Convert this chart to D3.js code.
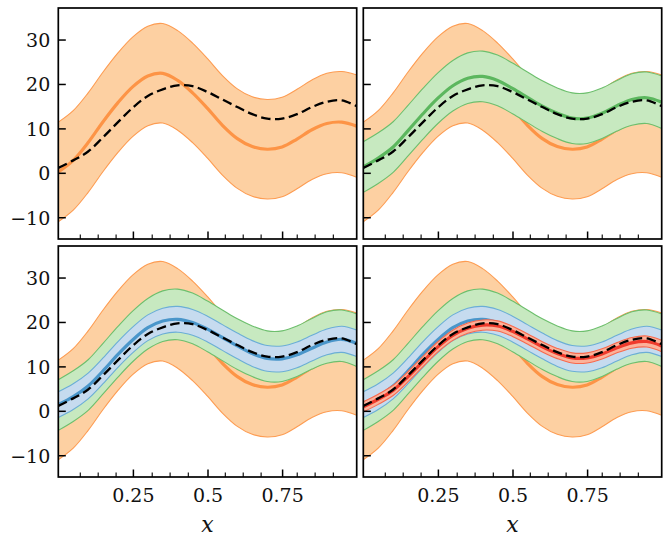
<!DOCTYPE html>
<html>
<head>
<meta charset="utf-8">
<script src="https://cdn.jsdelivr.net/npm/d3@7"></script>
<style>
  html, body { margin: 0; padding: 0; background: #fff; }
  svg { display: block; }
</style>
</head>
<body>
<svg id="chart" width="671" height="545"></svg>
<script>
// ---------------- data ----------------
const xs = [0, 0.05, 0.10, 0.15, 0.20, 0.25, 0.30, 0.35, 0.40, 0.45, 0.50,
            0.55, 0.60, 0.65, 0.70, 0.75, 0.80, 0.85, 0.90, 0.95, 1.00];

const trueF = [1.1, 2.8, 4.8, 8.0, 11.4, 14.7, 17.3, 18.8, 19.7, 19.5, 18.2,
               16.5, 14.8, 13.2, 12.2, 12.2, 13.2, 14.8, 16.0, 16.3, 15.0];

const orangeMean = [0.2, 2.8, 6.8, 11.5, 15.8, 19.4, 21.8, 22.4, 20.8, 18.0, 14.5,
                    10.7, 7.7, 5.9, 5.3, 5.8, 7.6, 9.7, 11.1, 11.4, 10.5];
const orangeHalf = [11.2, 11.2, 11.2, 11.2, 11.2, 11.2, 11.2, 11.2, 11.2, 11.2, 11.2,
                    11.2, 11.2, 11.2, 11.2, 11.2, 11.2, 11.2, 11.3, 11.4, 11.5];

const greenMean = [1.3, 3.3, 5.8, 9.5, 13.3, 16.8, 19.6, 21.3, 21.7, 20.8, 19.0,
                   17.0, 15.0, 13.4, 12.3, 12.3, 13.4, 15.1, 16.5, 16.9, 15.9];
const greenHalf = [5.7, 5.7, 5.7, 5.7, 5.7, 5.7, 5.7, 5.7, 5.7, 5.7, 5.7,
                   5.7, 5.7, 5.7, 5.7, 5.7, 5.7, 5.7, 5.8, 5.8, 5.9];

const blueMean = [1.4, 3.2, 5.6, 9.0, 12.7, 16.0, 18.7, 20.2, 20.6, 19.9, 18.4,
                  16.5, 14.6, 12.9, 11.8, 11.7, 12.6, 14.1, 15.5, 16.1, 15.2];
const blueHalf = [2.9, 2.9, 2.9, 2.9, 2.9, 2.9, 2.9, 2.9, 2.9, 2.9, 2.9,
                  2.9, 2.9, 2.9, 2.9, 2.9, 2.9, 2.9, 2.9, 2.95, 3.0];

const redMean = [0.9, 2.6, 4.6, 7.7, 11.1, 14.4, 17.0, 18.6, 19.3, 19.1, 17.9,
                 16.2, 14.4, 12.9, 11.9, 11.9, 12.8, 14.2, 15.3, 15.6, 14.6];
const redHalf = [1.15, 1.15, 1.15, 1.15, 1.15, 1.15, 1.15, 1.15, 1.15, 1.15, 1.15,
                 1.15, 1.15, 1.15, 1.15, 1.15, 1.15, 1.15, 1.2, 1.25, 1.3];

const xTickValues = [0.25, 0.5, 0.75];
const xTickLabels = ["0.25", "0.5", "0.75"];
const xMinorTicks = [0.072, 0.132, 0.192, 0.313, 0.373, 0.434, 0.558, 0.618, 0.678, 0.799, 0.859, 0.920];
const yTickValues = [-10, 0, 10, 20, 30];
const xLabel = "x";

// ---------------- styles ----------------
const seriesStyle = {
  orange: { mean: orangeMean, half: orangeHalf, fill: "#fdd0a2", edge: "#fd9c52", line: "#fd9446" },
  green:  { mean: greenMean,  half: greenHalf,  fill: "#c7e9c0", edge: "#6dbf6d", line: "#5cb75e" },
  blue:   { mean: blueMean,   half: blueHalf,   fill: "#c6dbef", edge: "#6baed6", line: "#4a96ca" },
  red:    { mean: redMean,    half: redHalf,    fill: "#fcb29a", edge: "#f8694d", line: "#ef3b2c" }
};
const panelSeries = [
  ["orange"],
  ["orange", "green"],
  ["orange", "green", "blue"],
  ["orange", "green", "blue", "red"]
];

const W = 298.4, H = 231;
const lefts = [58.3, 363.3], tops = [8, 246];
const FONT = "DejaVu Serif";
const FSIZE = 19;

const svg = d3.select("#chart");

const x = d3.scaleLinear().domain([0, 1]).range([0, W]);
const y = d3.scaleLinear().domain([-14.9, 37.1]).range([H, 0]);

const curve = d3.curveCatmullRom.alpha(0.5);
const pts = (arr) => xs.map((xv, i) => [xv, arr[i]]);

panelSeries.forEach((list, p) => {
  const col = p % 2, row = Math.floor(p / 2);
  const g = svg.append("g").attr("transform", `translate(${lefts[col]},${tops[row]})`);
  const clipId = "clip" + p;
  g.append("clipPath").attr("id", clipId)
    .append("rect").attr("x", 0).attr("y", 0).attr("width", W).attr("height", H);
  const plot = g.append("g").attr("clip-path", `url(#${clipId})`);

  list.forEach(name => {
    const s = seriesStyle[name];
    const band = xs.map((xv, i) => ({ x: xv, lo: s.mean[i] - s.half[i], hi: s.mean[i] + s.half[i] }));
    plot.append("path")
      .datum(band)
      .attr("fill", s.fill)
      .attr("d", d3.area().x(d => x(d.x)).y0(d => y(d.lo)).y1(d => y(d.hi)).curve(curve));
    plot.append("path").datum(band).attr("fill", "none").attr("stroke", s.edge).attr("stroke-width", 1.1)
      .attr("d", d3.line().x(d => x(d.x)).y(d => y(d.hi)).curve(curve));
    plot.append("path").datum(band).attr("fill", "none").attr("stroke", s.edge).attr("stroke-width", 1.1)
      .attr("d", d3.line().x(d => x(d.x)).y(d => y(d.lo)).curve(curve));
    plot.append("path").datum(pts(s.mean)).attr("fill", "none").attr("stroke", s.line)
      .attr("stroke-width", 3.2)
      .attr("d", d3.line().x(d => x(d[0])).y(d => y(d[1])).curve(curve));
  });

  plot.append("path").datum(pts(trueF))
    .attr("fill", "none").attr("stroke", "#000").attr("stroke-width", 2.3)
    .attr("stroke-dasharray", "9.5,4.5")
    .attr("d", d3.line().x(d => x(d[0])).y(d => y(d[1])).curve(curve));

  // ticks (inward) - x major
  const xAxis = d3.axisBottom(x).tickValues(xTickValues).tickSizeInner(-7.5).tickSizeOuter(0)
    .tickFormat((d, i) => row === 1 ? xTickLabels[i] : "");
  const xa = g.append("g").attr("transform", `translate(0,${H})`).call(xAxis)
    .attr("font-family", FONT).attr("font-size", FSIZE);
  xa.select(".domain").remove();
  xa.selectAll(".tick line").attr("stroke", "#000").attr("stroke-width", 1.5);
  xa.selectAll(".tick text").attr("y", 11).attr("dy", "0.75em").attr("fill", "#111");

  // x minor ticks
  const xm = d3.axisBottom(x).tickValues(xMinorTicks).tickSizeInner(-4.5).tickSizeOuter(0).tickFormat("");
  const xma = g.append("g").attr("transform", `translate(0,${H})`).call(xm);
  xma.select(".domain").remove();
  xma.selectAll(".tick line").attr("stroke", "#000").attr("stroke-width", 1.1);

  // y ticks
  const yAxis = d3.axisLeft(y).tickValues(yTickValues).tickSizeInner(-7.5).tickSizeOuter(0)
    .tickFormat(d => col === 0 ? (d < 0 ? "\u2212" + Math.abs(d) : String(d)) : "");
  const ya = g.append("g").call(yAxis)
    .attr("font-family", FONT).attr("font-size", FSIZE);
  ya.select(".domain").remove();
  ya.selectAll(".tick line").attr("stroke", "#000").attr("stroke-width", 1.5);
  ya.selectAll(".tick text").attr("x", -8).attr("dy", "0.36em").attr("fill", "#111");

  // frame
  g.append("rect").attr("x", 0).attr("y", 0).attr("width", W).attr("height", H)
    .attr("fill", "none").attr("stroke", "#000").attr("stroke-width", 1.7);

  if (row === 1) {
    g.append("text").attr("x", W / 2).attr("y", H + 55).attr("text-anchor", "middle")
      .attr("font-family", FONT).attr("font-size", 22).attr("font-style", "italic")
      .attr("fill", "#111").text(xLabel);
  }
});
</script>
</body>
</html>
